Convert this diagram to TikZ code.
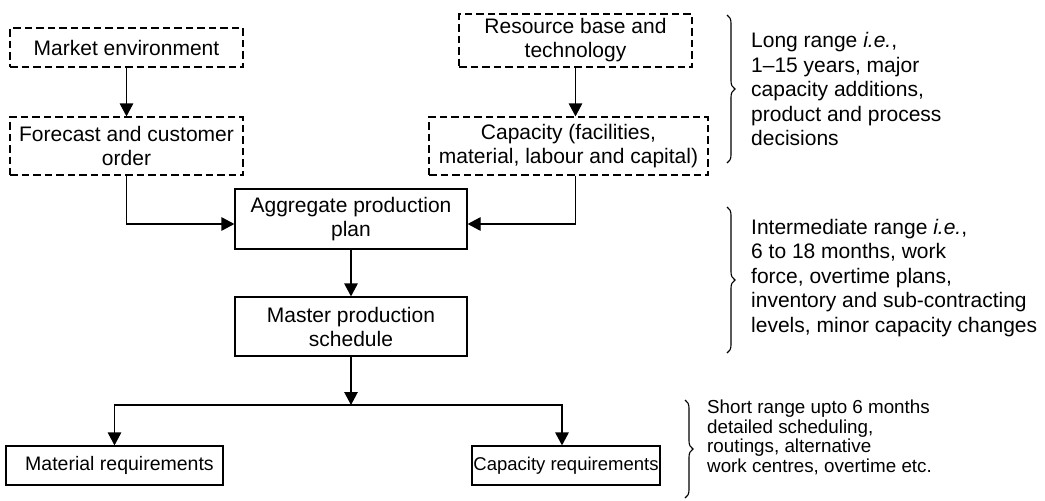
\documentclass[tikz,border=0pt]{standalone}
\usepackage{fontspec}
\setmainfont{Liberation Sans}
\usetikzlibrary{arrows.meta,decorations.pathreplacing}
\begin{document}
\begin{tikzpicture}[x=1pt,y=-1pt,
  box/.style={draw, line width=1.2pt, inner sep=0pt, align=center,
    font=\fontsize{21}{24}\selectfont},
  dbox/.style={box, dash pattern=on 7.5pt off 4pt},
  smallbox/.style={box, font=\fontsize{18.5}{22}\selectfont},
  arr/.style={line width=1.2pt, -{Triangle[length=13pt,width=13.5pt]}},
  rangebrace/.style={decorate, decoration={brace, amplitude=8pt}, line width=1.1pt},
  note/.style={anchor=west, align=left, inner sep=0pt,
    font=\fontsize{21}{24.5}\selectfont},
  shortnote/.style={note, font=\fontsize{18.8}{19.7}\selectfont}]
\useasboundingbox (0,0) rectangle (1045,501);

% long-range inputs
\node[dbox, minimum width=233pt, minimum height=39pt] (market) at (126.5,47.5) {Market environment};
\node[dbox, minimum width=233pt, minimum height=53pt] (resource) at (575.5,40.5) {Resource base and\\technology};
\node[dbox, minimum width=233pt, minimum height=58pt] (forecast) at (126.5,146) {Forecast and customer\\order};
\node[dbox, minimum width=279pt, minimum height=58pt] (capacity) at (568.5,146) {Capacity (facilities,\\material, labour and capital)};

% planning chain
\node[box, minimum width=232pt, minimum height=60pt] (app) at (351,219) {Aggregate production\\plan};
\node[box, minimum width=232pt, minimum height=59pt] (mps) at (351,326.5) {Master production\\schedule};

% short-range outputs
\node[smallbox, minimum width=217pt, minimum height=39pt, font=\fontsize{19.5}{22}\selectfont] (matreq) at (114.5,465.5) {\hspace*{10pt}Material requirements};
\node[smallbox, minimum width=188pt, minimum height=39pt] (capreq) at (566,465.5) {Capacity requirements};

% connectors
\draw[arr] (market) -- (forecast);
\draw[arr] (resource.south) -- (resource.south |- capacity.north);
\draw[arr] (forecast.south) |- ([yshift=-5pt]app.west);
\draw[arr] (resource.south |- capacity.south) |- ([yshift=-5pt]app.east);
\draw[arr] (app) -- (mps);
\coordinate (split) at (351,405);
\draw[arr] (mps) -- (split);
\draw[arr] (split) -| (matreq.north);
\draw[arr] (split) -| ([xshift=-4pt]capreq.north);

% planning horizons
\draw[rangebrace] (727,15) -- (727,163);
\node[note] (longtxt) at (751,89) {Long range \textit{i.e.},\\1--15 years, major\\capacity additions,\\product and process\\decisions};
\draw[rangebrace] (727,207) -- (727,353);
\node[note] (midtxt) at (751,278) {Intermediate range \textit{i.e.},\\6 to 18 months, work\\force, overtime plans,\\inventory and sub-contracting\\levels, minor capacity changes};
\draw[rangebrace] (685,400) -- (685,498);
\node[shortnote] (shorttxt) at (707,437.5) {Short range upto 6 months\\detailed scheduling,\\routings, alternative\\work centres, overtime etc.};
\end{tikzpicture}
\end{document}
